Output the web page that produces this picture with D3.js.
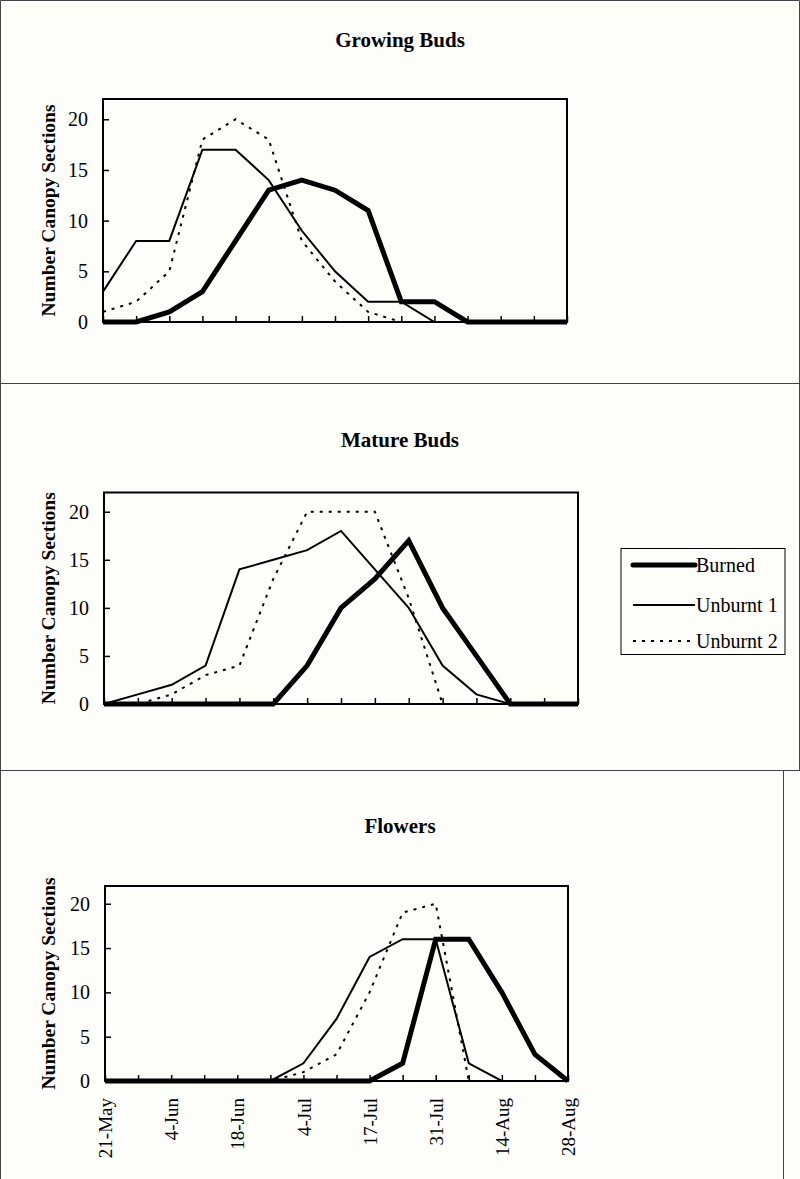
<!DOCTYPE html>
<html>
<head>
<meta charset="utf-8">
<script src="https://cdn.jsdelivr.net/npm/d3@7/dist/d3.min.js"></script>
<style>
  html, body { margin: 0; padding: 0; background: #fdfdf9; }
  svg { display: block; }
  text { font-family: "Liberation Serif", "Times New Roman", serif; fill: #000; }
</style>
</head>
<body>
<svg id="chart" width="800" height="1179"></svg>
<script>
// ---- data ----
const dates = ["21-May","28-May","4-Jun","11-Jun","18-Jun","26-Jun","4-Jul","10-Jul","17-Jul","24-Jul","31-Jul","7-Aug","14-Aug","21-Aug","28-Aug"];
const shownDates = ["21-May","4-Jun","18-Jun","4-Jul","17-Jul","31-Jul","14-Aug","28-Aug"];
const yTicks = [0, 5, 10, 15, 20];
const seriesNames = ["Burned", "Unburnt 1", "Unburnt 2"];
const panelTitles = ["Growing Buds", "Mature Buds", "Flowers"];

const growingBurned   = [0,0,1,3,8,13,14,13,11,2,2,0,0,0,0];
const growingUnburnt1 = [3,8,8,17,17,14,9,5,2,2,0,0,0,0,0];
const growingUnburnt2 = [1,2,5,18,20,18,8,4,1,0,0,0,0,0,0];

const matureBurned   = [0,0,0,0,0,0,4,10,13,17,10,5,0,0,0];
const matureUnburnt1 = [0,1,2,4,14,15,16,18,14,10,4,1,0,0,0];
const matureUnburnt2 = [0,0,1,3,4,13,20,20,20,11,0,0,0,0,0];

const flowersBurned   = [0,0,0,0,0,0,0,0,0,2,16,16,10,3,0];
const flowersUnburnt1 = [0,0,0,0,0,0,2,7,14,16,16,2,0,0,0];
const flowersUnburnt2 = [0,0,0,0,0,0,1,3,10,19,20,0,0,0,0];

// ---- layout ----
const panels = [
  { title: panelTitles[0], titleY: 47, box: {l: 103, r: 567, t: 99, b: 322}, labels: false,
    data: [growingBurned, growingUnburnt1, growingUnburnt2] },
  { title: panelTitles[1], titleY: 447, box: {l: 104, r: 578, t: 492.5, b: 704}, labels: false,
    data: [matureBurned, matureUnburnt1, matureUnburnt2] },
  { title: panelTitles[2], titleY: 833, box: {l: 105, r: 568, t: 886, b: 1081}, labels: true,
    data: [flowersBurned, flowersUnburnt1, flowersUnburnt2] }
];
const styles = [
  { width: 5, dash: null },
  { width: 2, dash: null },
  { width: 2, dash: "3,6" }
];

const svg = d3.select("#chart");

// outer frame and panel separators
const frame = svg.append("g").attr("stroke", "#444").attr("stroke-width", 1).attr("fill", "none");
frame.append("line").attr("x1", 0.5).attr("y1", 0.5).attr("x2", 799.5).attr("y2", 0.5);
frame.append("line").attr("x1", 0.5).attr("y1", 0.5).attr("x2", 0.5).attr("y2", 1179);
frame.append("line").attr("x1", 799.5).attr("y1", 0.5).attr("x2", 799.5).attr("y2", 770);
frame.append("line").attr("x1", 0).attr("y1", 383.5).attr("x2", 800).attr("y2", 383.5);
frame.append("line").attr("x1", 0).attr("y1", 770.5).attr("x2", 800).attr("y2", 770.5);
frame.append("line").attr("x1", 783.5).attr("y1", 770.5).attr("x2", 783.5).attr("y2", 1179);

panels.forEach(p => {
  const g = svg.append("g");
  const x = d3.scalePoint().domain(dates).range([p.box.l, p.box.r]);
  const y = d3.scaleLinear().domain([0, 22]).range([p.box.b, p.box.t]);

  g.append("text")
    .attr("x", 400).attr("y", p.titleY)
    .attr("text-anchor", "middle")
    .style("font-size", "21px").style("font-weight", "bold")
    .text(p.title);

  // y axis
  const ya = g.append("g").attr("transform", `translate(${p.box.l},0)`)
    .call(d3.axisLeft(y).tickValues(yTicks).tickSize(-6).tickPadding(15));
  ya.select(".domain").remove();
  ya.selectAll("line").attr("stroke", "#000").attr("stroke-width", 1.5);
  ya.selectAll("text").style("font-size", "20px").style("font-family", "Liberation Serif");

  // x axis
  const xa = g.append("g").attr("transform", `translate(0,${p.box.b})`)
    .call(d3.axisBottom(x).tickSize(-6)
      .tickFormat(d => (p.labels && shownDates.includes(d)) ? d : ""));
  xa.select(".domain").remove();
  xa.selectAll("line").attr("stroke", "#000").attr("stroke-width", 1.5);
  xa.selectAll("text")
    .style("font-size", "19px").style("font-family", "Liberation Serif")
    .attr("text-anchor", "end")
    .attr("transform", "rotate(-90)")
    .attr("x", -17).attr("y", 0).attr("dy", "0.35em");

  // y title
  g.append("text")
    .attr("transform", `translate(55,${(p.box.t + p.box.b) / 2}) rotate(-90)`)
    .attr("text-anchor", "middle")
    .style("font-size", "19.5px").style("font-weight", "bold")
    .text("Number Canopy Sections");

  // plot box
  g.append("rect")
    .attr("x", p.box.l).attr("y", p.box.t)
    .attr("width", p.box.r - p.box.l).attr("height", p.box.b - p.box.t)
    .attr("fill", "none").attr("stroke", "#000").attr("stroke-width", 2);

  const line = d3.line().x((d, i) => x(dates[i])).y(d => y(d));
  [2, 1, 0].forEach(si => {
    g.append("path")
      .datum(p.data[si])
      .attr("d", line)
      .attr("fill", "none")
      .attr("stroke", "#000")
      .attr("stroke-width", styles[si].width)
      .attr("stroke-dasharray", styles[si].dash)
      .attr("stroke-linejoin", "miter");
  });
});

// legend
const lg = svg.append("g");
lg.append("rect").attr("x", 621).attr("y", 548.5).attr("width", 164).attr("height", 106)
  .attr("fill", "#fdfdf9").attr("stroke", "#000").attr("stroke-width", 1);
const legendY = [565, 605, 641];
seriesNames.forEach((name, i) => {
  lg.append("line")
    .attr("x1", 633).attr("x2", 695).attr("y1", legendY[i]).attr("y2", legendY[i])
    .attr("stroke", "#000")
    .attr("stroke-width", styles[i].width)
    .attr("stroke-linecap", i === 0 ? "round" : "butt")
    .attr("stroke-dasharray", styles[i].dash);
  lg.append("text")
    .attr("x", 696).attr("y", legendY[i] + 7)
    .style("font-size", "20px")
    .text(name);
});
</script>
</body>
</html>
